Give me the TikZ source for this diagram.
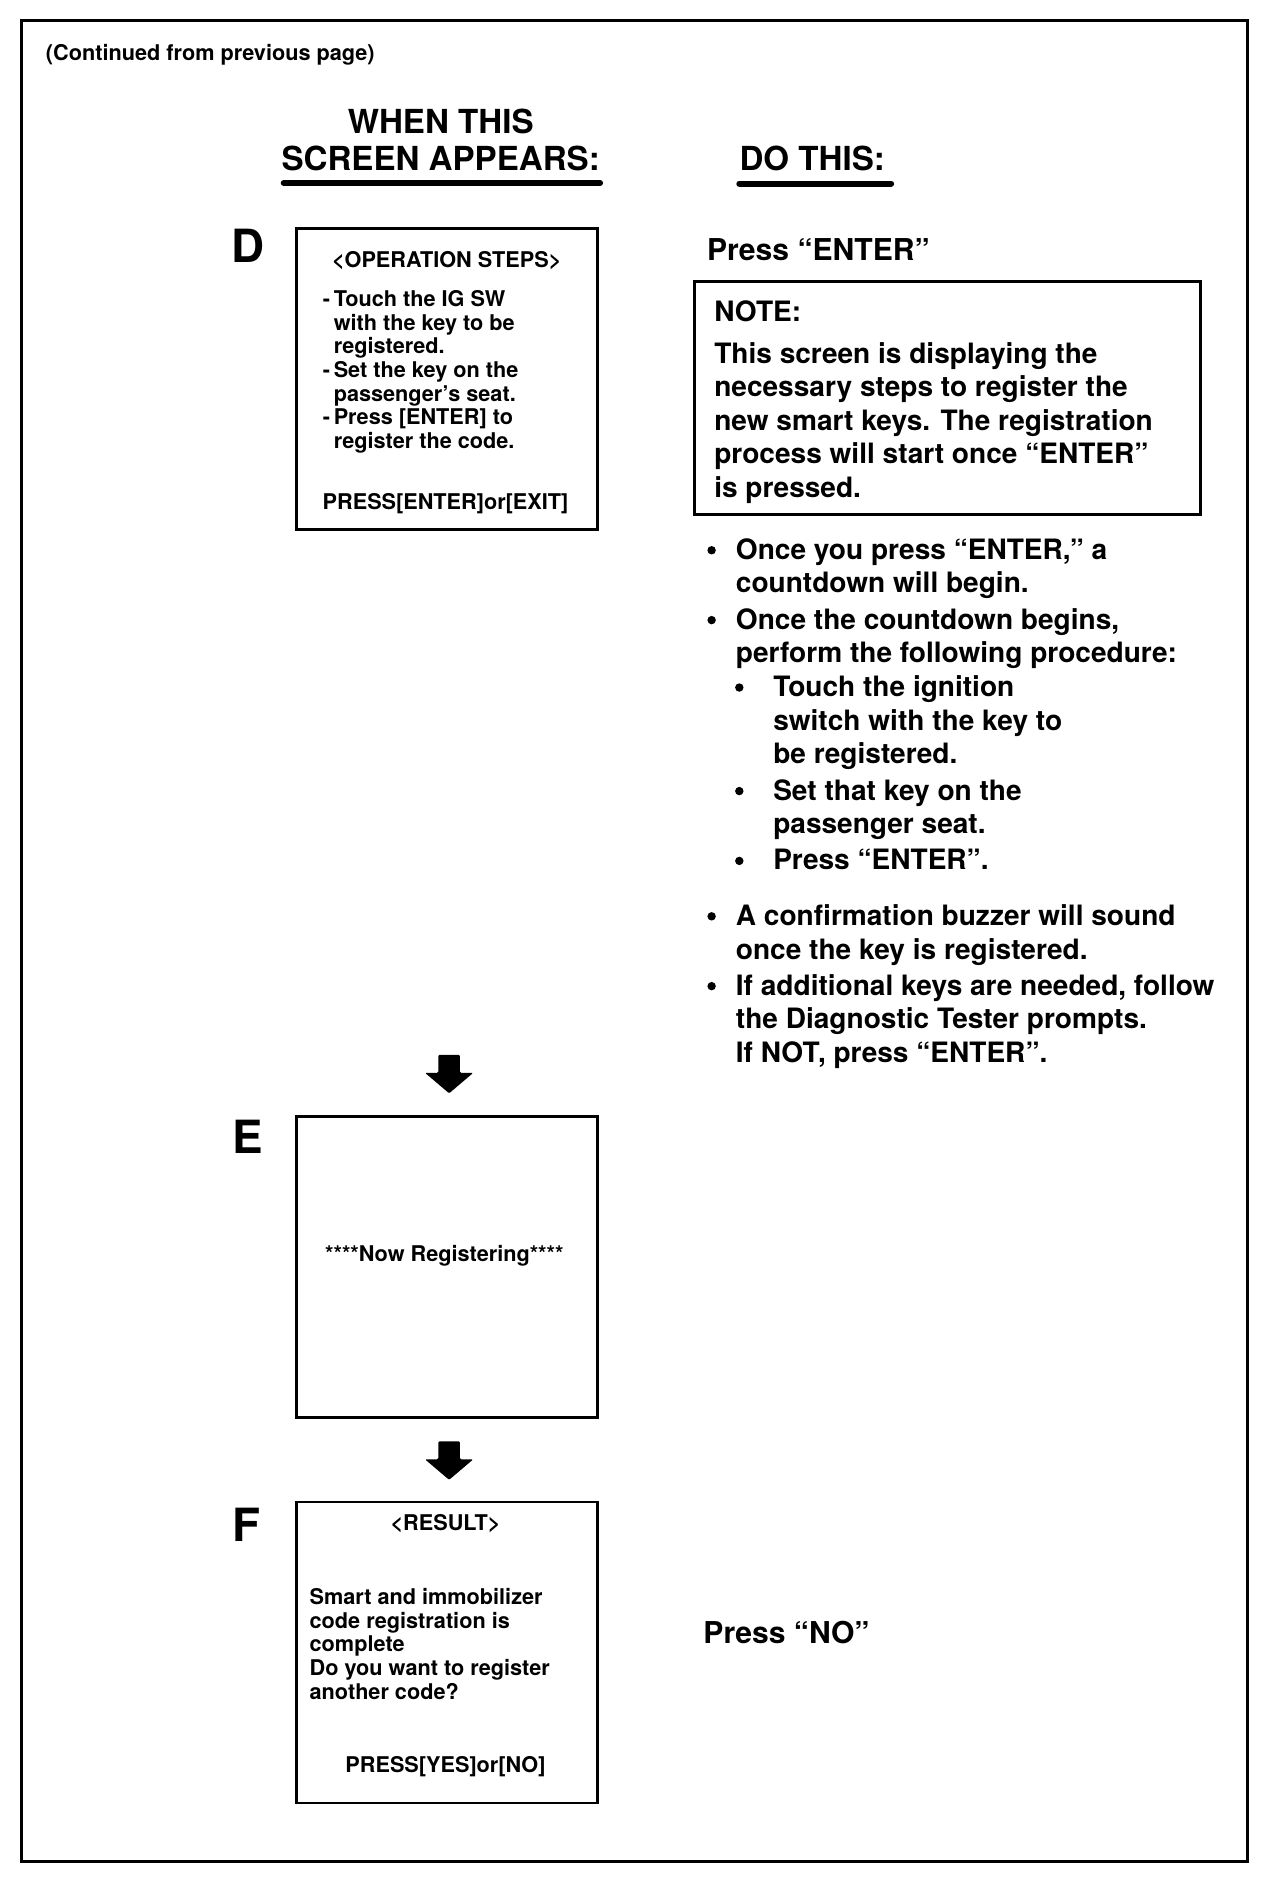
\documentclass[tikz,border=0pt]{standalone}
\usepackage{fontspec}
\setmainfont{TeX Gyre Heros}
\begin{document}
\begin{tikzpicture}[x=1pt, y=-1pt,
    screen/.style={draw, line width=2.2pt, minimum width=250pt, minimum height=250pt, inner sep=0pt},
    scrtext/.style={font=\bfseries\fontsize{18}{19.6}\selectfont, align=left, inner sep=0pt},
    body/.style={font=\bfseries\fontsize{23.3}{27.8}\selectfont, align=left, inner sep=0pt, anchor=north west},
    press/.style={font=\bfseries\fontsize{25}{28}\selectfont, inner sep=0pt, anchor=base west},
    head/.style={font=\bfseries\fontsize{27.5}{31}\selectfont, align=center, inner sep=0pt, anchor=south},
    letter/.style={font=\bfseries\fontsize{38}{38}\selectfont, inner sep=0pt, anchor=base west},
    dot/.style={circle, fill, inner sep=0pt, minimum size=7pt},
    uline/.style={line width=5pt, line cap=round},
    downarrow/.pic={\fill[rounded corners=1pt] (-9,-16) -- (9,-16) -- (9,-1) -- (20,-1) -- (0,16) -- (-20,-1) -- (-9,-1) -- cycle;}
]
    \useasboundingbox (0,0) rectangle (1063,1568);
    \draw[line width=2.6pt] (18,17) rectangle (1036,1546);

    % headings
    \node[scrtext, anchor=base west] (cont) at (38,50) {(Continued from previous page)};
    \node[head] (when) at (366,142) {WHEN THIS\\SCREEN APPEARS:};
    \node[head, anchor=base west] (dothis) at (614,142) {DO THIS:};
    \draw[uline] ([yshift=-10pt, xshift=2pt]when.south west) -- ([yshift=-10pt]when.south east);
    \draw[uline] ([yshift=-10pt]dothis.south west) -- ([yshift=-10pt, xshift=5pt]dothis.south east);

    % screens
    \node[letter] (labD) at (192,218) {D};
    \node[screen] (scrD) at (371,315) {};
    \node[scrtext, anchor=base] (opsteps) at (371,222) {<OPERATION STEPS>};
    \node[scrtext, anchor=north west] (steps) at (268,241.1) {-\,Touch the IG SW\\\hspace*{9pt}with the key to be\\\hspace*{9pt}registered.\\-\,Set the key on the\\\hspace*{9pt}passenger’s seat.\\-\,Press [ENTER] to\\\hspace*{9pt}register the code.};
    \node[scrtext, anchor=base] (pressD) at (370,423) {PRESS[ENTER]or[EXIT]};

    \pic (arrDE) at (373,892) {downarrow};

    \node[letter] (labE) at (193,958) {E};
    \node[screen] (scrE) at (371,1052) {};
    \node[scrtext, anchor=base] (nowreg) at (369,1048) {****Now Registering****};

    \pic (arrEF) at (373,1213) {downarrow};

    \node[letter] (labF) at (193,1280) {F};
    \node[screen] (scrF) at (371,1372.5) {};
    \node[scrtext, anchor=base] (result) at (370,1271) {<RESULT>};
    \node[scrtext, anchor=north west] (resmsg) at (257,1319.1) {Smart and immobilizer\\code registration is\\complete\\Do you want to register\\another code?};
    \node[scrtext, anchor=base] (pressF) at (370,1472) {PRESS[YES]or[NO]};

    % instructions
    \node[press] (pressenter) at (587,216) {Press “ENTER”};
    \node[draw, line width=2.6pt, minimum width=420pt, minimum height=193pt, inner sep=0pt] (note) at (787,330.5) {};
    \node[body, anchor=base west] (notehd) at (593,267) {NOTE:};
    \node[body] (notetxt) at (593,284.2) {This screen is displaying the\\necessary steps to register the\\new smart keys. The registration\\process will start once “ENTER”\\is pressed.};

    \node[dot] (dot1) at (591,457) {};
    \node[body] (item1) at (611,447.2) {Once you press “ENTER,” a\\countdown will begin.};
    \node[dot] (dot2) at (591,515) {};
    \node[body] (item2) at (611,505.2) {Once the countdown begins,\\perform the following procedure:};
    \node[dot] (dot3) at (614,571) {};
    \node[body] (sub1) at (642,561.2) {Touch the ignition\\switch with the key to\\be registered.};
    \node[dot] (dot4) at (614,657) {};
    \node[body] (sub2) at (642,647.2) {Set that key on the\\passenger seat.};
    \node[dot] (dot5) at (614,715) {};
    \node[body] (sub3) at (642,705.2) {Press “ENTER”.};
    \node[dot] (dot6) at (591,761) {};
    \node[body] (item3) at (611,751.2) {A confirmation buzzer will sound\\once the key is registered.};
    \node[dot] (dot7) at (591,819) {};
    \node[body] (item4) at (611,809.2) {If additional keys are needed, follow\\the Diagnostic Tester prompts.\\If NOT, press “ENTER”.};

    \node[press] (pressno) at (584,1365) {Press “NO”};
\end{tikzpicture}
\end{document}
